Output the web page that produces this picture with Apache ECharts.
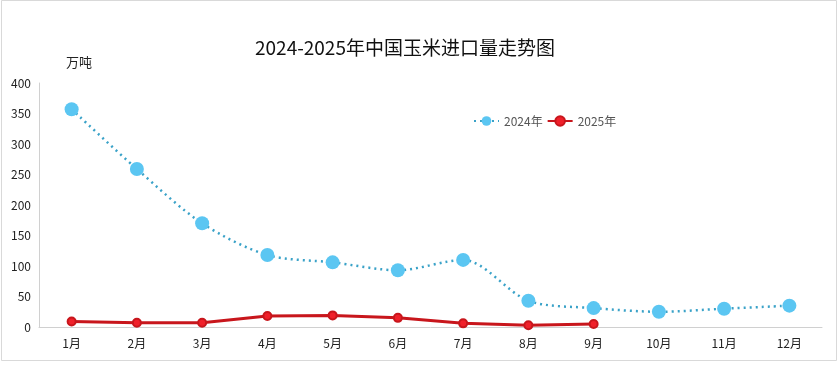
<!DOCTYPE html>
<html>
<head>
<meta charset="utf-8">
<script src="https://cdn.jsdelivr.net/npm/echarts@6/dist/echarts.min.js"></script>
<style>html,body{margin:0;padding:0;background:#fff;}#c{width:838px;height:370px;}</style>
</head>
<body>
<div id="c"></div>
<script>
var titleText = '2024-2025年中国玉米进口量走势图';
var unitName = '万吨';
var categories = ['1月','2月','3月','4月','5月','6月','7月','8月','9月','10月','11月','12月'];
var series2024 = [357, 259, 170, 118, 106, 93, 110, 43, 31, 25, 30, 35];
var series2025 = [9, 7, 7, 18, 19, 15, 6, 3, 5];
var yTicks = {min: 0, max: 400, interval: 50};

var chart = echarts.init(document.getElementById('c'));
var font = '"Microsoft YaHei","Noto Sans CJK SC",sans-serif';
chart.setOption({
  animation: false,
  textStyle: {fontFamily: font},
  graphic: [{
    type: 'rect', left: 1, top: 0, z: -1,
    shape: {width: 835, height: 360},
    style: {fill: '#fff', stroke: '#d9d9d9', lineWidth: 1}
  }],
  title: {
    text: titleText, left: 250, top: 33,
    textStyle: {fontSize: 19, fontWeight: 'normal', color: '#111', fontFamily: font}
  },
  legend: {
    left: 468, top: 110, itemWidth: 25, itemHeight: 12, itemGap: 4,
    textStyle: {fontSize: 12, color: '#555', fontFamily: font},
    data: ['2024年', '2025年']
  },
  grid: {left: 39, right: 16, top: 83, bottom: 43, containLabel: false},
  xAxis: {
    type: 'category', data: categories, boundaryGap: true,
    axisLine: {lineStyle: {color: '#d0d0d0'}},
    axisTick: {show: false},
    axisLabel: {color: '#222', fontSize: 12, margin: 10}
  },
  yAxis: {
    type: 'value', min: yTicks.min, max: yTicks.max, interval: yTicks.interval,
    name: unitName, nameLocation: 'end', nameGap: 14,
    nameTextStyle: {color: '#222', fontSize: 13, align: 'left', padding: [0, 0, 0, 27]},
    axisLine: {show: true, lineStyle: {color: '#d0d0d0'}},
    axisTick: {show: false},
    splitLine: {show: false},
    axisLabel: {color: '#222', fontSize: 12, margin: 8}
  },
  series: [{
    name: '2024年', type: 'line', data: series2024, smooth: 0.3,
    symbol: 'circle', symbolSize: 14,
    lineStyle: {color: '#3aa2c8', width: 2.5, type: [2, 4]},
    itemStyle: {color: '#5bc6f2', borderWidth: 0}
  }, {
    name: '2025年', type: 'line', data: series2025,
    symbol: 'circle', symbolSize: 8,
    lineStyle: {color: '#c8161c', width: 3},
    itemStyle: {color: '#f0202a', borderColor: '#c8161c', borderWidth: 2}
  }]
});
</script>
</body>
</html>
